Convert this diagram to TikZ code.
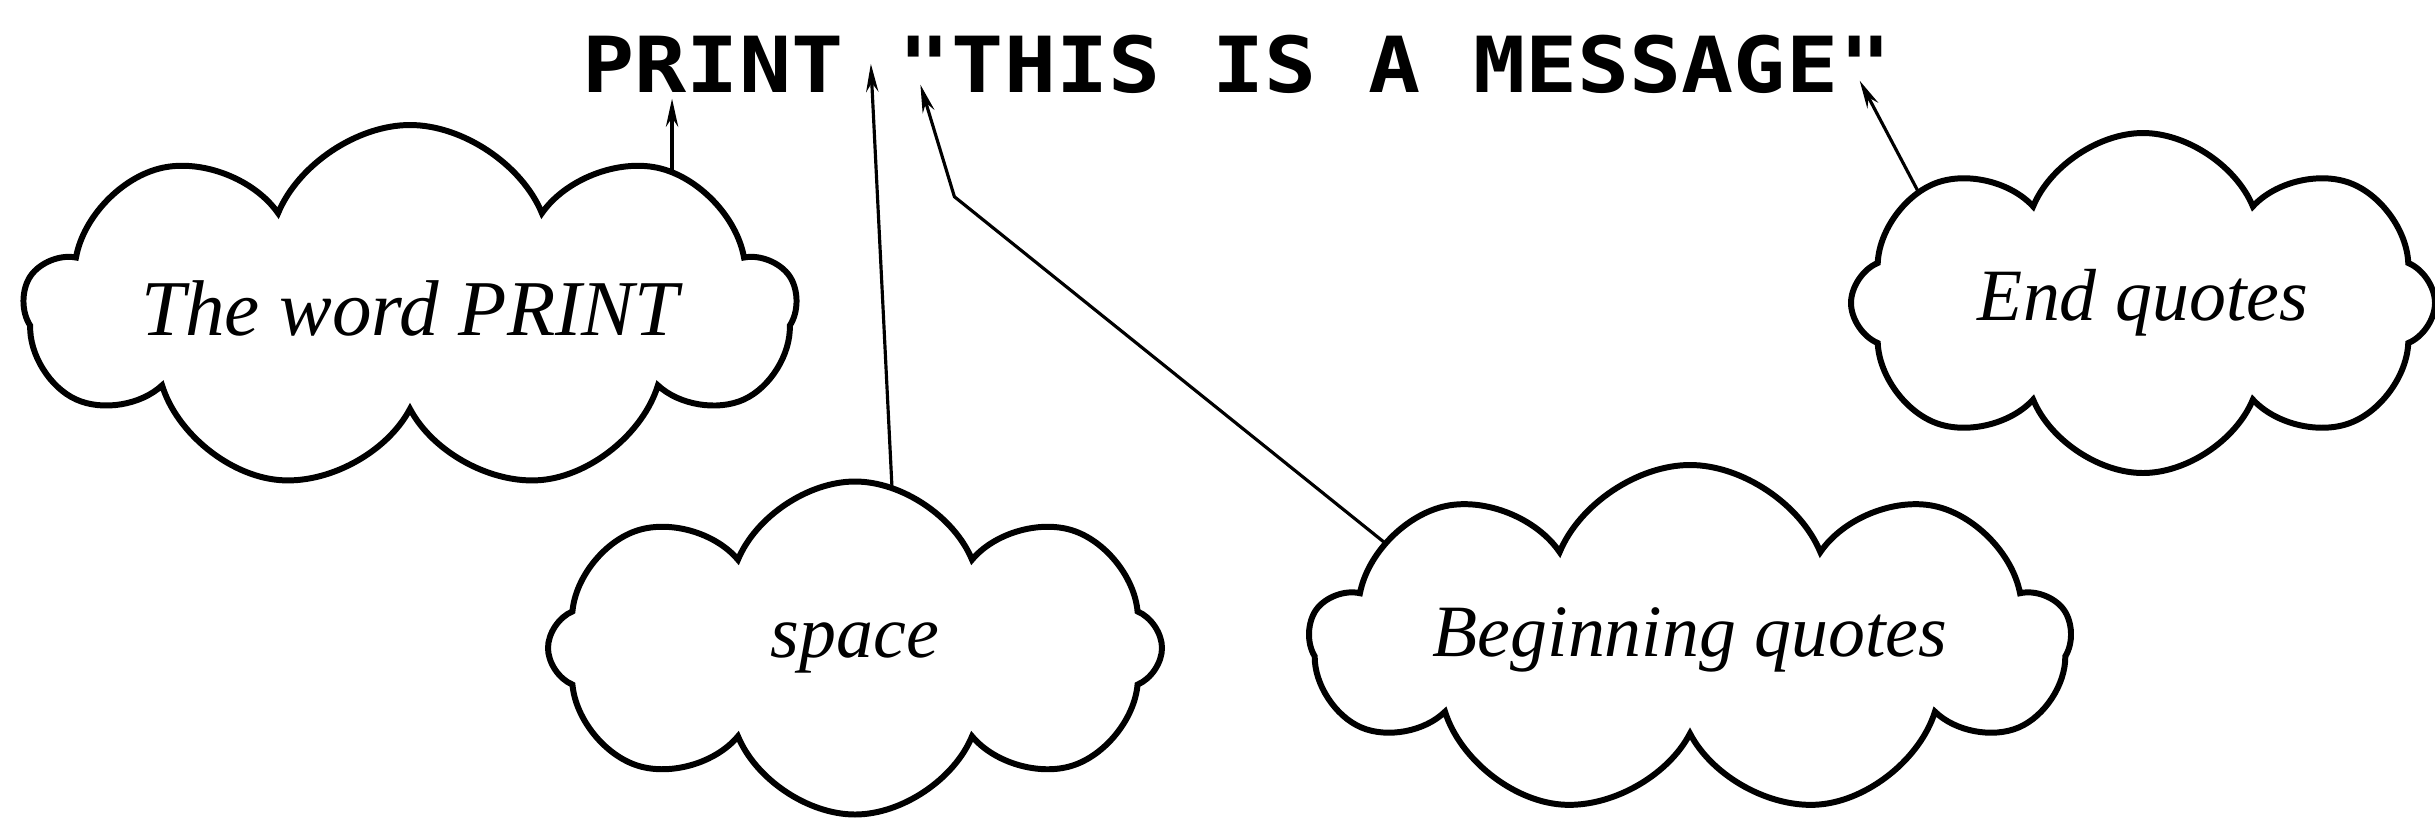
\documentclass[tikz,border=0pt]{standalone}
\usepackage{fontspec}
\setmainfont{Liberation Serif}
\newfontfamily\codefont[FakeStretch=1.12,Ligatures=TeXOff]{DejaVu Sans Mono}
\usetikzlibrary{positioning,shapes.symbols,arrows.meta,backgrounds}

\tikzset{
  code/.style={font=\codefont\bfseries\fontsize{22}{26}\selectfont, inner sep=0pt, anchor=base west},
  bubble/.style={cloud, draw, fill=white, line width=1.7pt, cloud puffs=#1, cloud puff arc=135,
    cloud ignores aspect, font=\itshape\fontsize{21}{25}\selectfont},
  pointer/.style={-{Stealth[length=8pt,width=3.5pt]}, line width=0.9pt},
}

\begin{document}
\begin{tikzpicture}
  \useasboundingbox (0,0) rectangle (24.35,-8.19);
  % the statement, one piece per node
  \node[code] (kw) at (5.82,-0.92) {PRINT};
  \node[code, base right=0pt of kw] (gap) {\phantom{X}};
  \node[code, base right=0pt of gap] (lq) {"};
  \node[code, base right=0pt of lq] (msg) {THIS IS A MESSAGE};
  \node[code, base right=0pt of msg] (rq) {"};
  % the clouds
  \node[bubble=9, minimum width=7.68cm, minimum height=3.66cm,
        font=\itshape\fontsize{22.5}{26}\selectfont] (word) at (4.10,-3.08) {The word PRINT};
  \node[bubble=8, minimum width=6.14cm, minimum height=3.33cm] (spc) at (8.55,-6.48) {space};
  \node[bubble=9, minimum width=7.59cm, minimum height=3.50cm] (bq) at (16.90,-6.40) {Beginning quotes};
  \node[bubble=8, minimum width=5.84cm, minimum height=3.40cm] (eq) at (21.43,-3.03) {End quotes};
  % pointers, behind the clouds
  \coordinate (kwtip) at ([xshift=-4.1mm,yshift=-0.6mm]kw.south);
  \coordinate (lqbend) at ([xshift=3mm,yshift=-10.4mm]lq.south);
  \begin{pgfonlayer}{background}
    \draw[pointer] (kwtip |- word.center) -- (kwtip);
    \draw[pointer] ([xshift=4.5mm]spc.center) -- (gap.center);
    \draw[pointer] ([xshift=-23.4mm,yshift=4mm]bq.center) -- (lqbend) -- ([xshift=-0.4mm,yshift=0.8mm]lq.south);
    \draw[pointer] ([xshift=-19.4mm,yshift=5.3mm]eq.center) -- ([xshift=-0.6mm,yshift=1.2mm]rq.south);
  \end{pgfonlayer}
\end{tikzpicture}
\end{document}
